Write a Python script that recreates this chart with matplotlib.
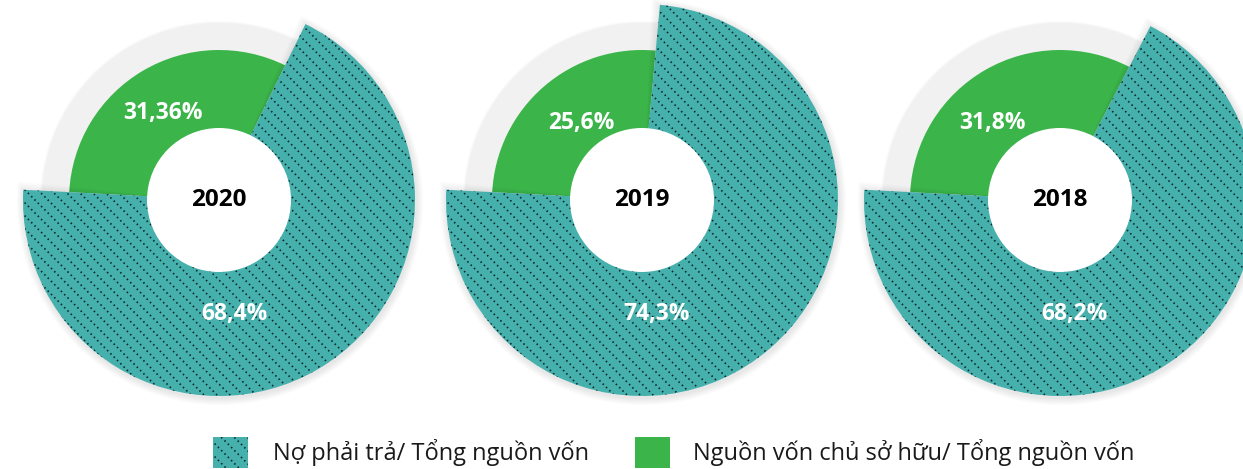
import numpy as np
import matplotlib
matplotlib.use('Agg')
import matplotlib.pyplot as plt
from matplotlib.patches import Wedge, Circle, Rectangle

# ---- data ----
years = ['2020', '2019', '2018']
debt_ratio = [68.4, 74.3, 68.2]
equity_ratio = [31.36, 25.6, 31.8]
debt_labels = ['68,4%', '74,3%', '68,2%']
equity_labels = ['31,36%', '25,6%', '31,8%']
legend_labels = ['Nợ phải trả/ Tổng nguồn vốn', 'Nguồn vốn chủ sở hữu/ Tổng nguồn vốn']

# ---- style / layout ----
W, H = 1243, 469
TEAL = '#45b0ac'
GREEN = '#3bb54a'
GRAY = '#f1f1f1'
DOT = '#0b2328'
FONT = ['Open Sans', 'DejaVu Sans']

centers_x = [219, 642, 1060]
center_y_px = 200
R_TEAL, R_GREEN, R_GRAY, R_HOLE = 196, 150, 176, 72
START = 177  # degrees ccw from +x (screen)
eq_off = [(-56, -87), (-61, -77), (-68, -77)]
debt_off = [(15, 114), (15, 114), (14, 114)]

fig = plt.figure(figsize=(W / 100, H / 100), dpi=100)
ax = fig.add_axes([0, 0, 1, 1])
ax.set_xlim(0, W)
ax.set_ylim(0, H)
ax.axis('off')


def py(y):
    return H - y


def dotted_hatch(patch, x0, x1, y0, y1, step=13.0, z=3):
    cmin = x0 + y0 - step
    cmax = x1 + y1 + step
    for c in np.arange(cmin, cmax, step):
        xs = np.array([x0 - 5, x1 + 5])
        ys = -xs + c
        ln, = ax.plot(xs, ys, color=DOT, lw=1.2, ls=(0, (0.9, 1.9)),
                      dash_capstyle='butt', zorder=z)
        ln.set_clip_path(patch)


for i, yr in enumerate(years):
    cx, cy = centers_x[i], py(center_y_px)
    total = debt_ratio[i] + equity_ratio[i]
    t_span = 360.0 * debt_ratio[i] / total
    t1, t2 = START, START + t_span

    # gray background disc with soft edge
    for k, a in [(3, 0.25), (2, 0.5), (1, 0.8)]:
        ax.add_patch(Circle((cx, cy), R_GRAY + k, fc=GRAY, ec='none', alpha=a, zorder=1))
    ax.add_patch(Circle((cx, cy), R_GRAY, fc=GRAY, ec='none', zorder=1))

    # green wedge
    ax.add_patch(Wedge((cx, cy), R_GREEN, t2, START + 360, width=R_GREEN - R_HOLE + 5,
                       fc=GREEN, ec='none', zorder=1.5))

    # soft shadow of teal wedge
    for k in range(1, 9):
        ax.add_patch(Wedge((cx + 1, cy - 2), R_TEAL + k * 0.9, t1 - k * 0.35, t2 + k * 0.35,
                           width=R_TEAL - R_HOLE + 2 * k, fc='black', ec='none',
                           alpha=0.013, zorder=2))

    teal = Wedge((cx, cy), R_TEAL, t1, t2, width=R_TEAL - R_HOLE + 5,
                 fc=TEAL, ec='none', zorder=2.5)
    ax.add_patch(teal)
    dotted_hatch(teal, cx - R_TEAL, cx + R_TEAL, cy - R_TEAL, cy + R_TEAL, z=2.6)

    # center hole
    ax.add_patch(Circle((cx, cy), R_HOLE, fc='white', ec='none', zorder=4))
    ax.text(cx, cy, yr, ha='center', va='center', fontsize=17.5, fontweight='bold',
            color='black', family=FONT, zorder=5)

    ex, ey = eq_off[i]
    ax.text(cx + ex, py(center_y_px + ey), equity_labels[i], ha='center', va='center',
            fontsize=16.5, fontweight='bold', color='white', family=FONT, zorder=5)
    dx, dy = debt_off[i]
    ax.text(cx + dx, py(center_y_px + dy), debt_labels[i], ha='center', va='center',
            fontsize=16.5, fontweight='bold', color='white', family=FONT, zorder=5)

# ---- legend ----
leg_x = [213, 635]
leg_tx = [273, 693]
leg_colors = [TEAL, GREEN]
for j in range(2):
    r = Rectangle((leg_x[j], py(468)), 35, 31, fc=leg_colors[j], ec='none', zorder=3)
    ax.add_patch(r)
    if j == 0:
        dotted_hatch(r, leg_x[j], leg_x[j] + 35, py(468), py(437), z=3.1)
    ax.text(leg_tx[j], py(460), legend_labels[j], ha='left', va='baseline',
            fontsize=17, color='#1a1a1a', family=FONT, zorder=5)

fig.savefig('out.png', dpi=100, facecolor='white')
